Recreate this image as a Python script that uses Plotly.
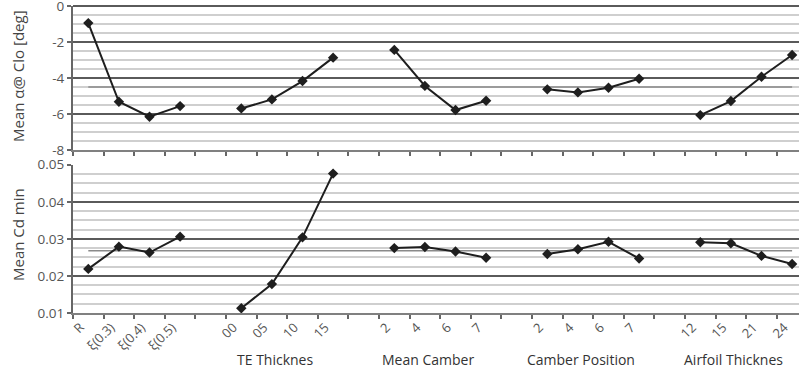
import plotly.graph_objects as go
from plotly.subplots import make_subplots

# ---- data ----
tick_labels = ["R", "ξ(0.3)", "ξ(0.4)", "ξ(0.5)", "",
               "00", "05", "10", "15", "",
               "2", "4", "6", "7", "",
               "2", "4", "6", "7", "",
               "12", "15", "21", "24"]
group_names = ["TE Thicknes", "Mean Camber", "Camber Position", "Airfoil Thicknes"]

alpha_shape = [-0.95, -5.32, -6.15, -5.56]
alpha_te = [-5.69, -5.19, -4.17, -2.87]
alpha_camber = [-2.44, -4.44, -5.78, -5.26]
alpha_campos = [-4.63, -4.80, -4.54, -4.04]
alpha_thick = [-6.06, -5.28, -3.93, -2.72]
alpha_grand_mean = -4.5

cd_shape = [0.0219, 0.0279, 0.0263, 0.0306]
cd_te = [0.0113, 0.0178, 0.0304, 0.0476]
cd_camber = [0.0275, 0.0278, 0.0266, 0.0249]
cd_campos = [0.0259, 0.0272, 0.0292, 0.0247]
cd_thick = [0.0291, 0.0288, 0.0254, 0.0232]
cd_grand_mean = 0.0268

# ---- layout constants ----
W, H = 799, 373
ML, MR, MT, MB = 73, 0, 6, 60
plot_h = H - MT - MB
top_dom = [(313 - 150) / plot_h, 1.0]
bot_dom = [0.0, (313 - 164.7) / plot_h]

fig = make_subplots(rows=2, cols=1, shared_xaxes=False)

groups_a = [alpha_shape, alpha_te, alpha_camber, alpha_campos, alpha_thick]
groups_c = [cd_shape, cd_te, cd_camber, cd_campos, cd_thick]
starts = [0, 5, 10, 15, 20]

line_col = "#1e1e1e"
mean_col = "#8a8a8a"

n = len(tick_labels)
fig.add_trace(go.Scatter(x=[0, n - 1], y=[alpha_grand_mean] * 2, mode="lines",
                         line=dict(color=mean_col, width=1.6), showlegend=False),
              row=1, col=1)
fig.add_trace(go.Scatter(x=[0, n - 1], y=[cd_grand_mean] * 2, mode="lines",
                         line=dict(color=mean_col, width=1.6), showlegend=False),
              row=2, col=1)

for vals_a, vals_c, s in zip(groups_a, groups_c, starts):
    xs = list(range(s, s + len(vals_a)))
    fig.add_trace(go.Scatter(x=xs, y=vals_a, mode="lines+markers",
                             line=dict(color=line_col, width=2),
                             marker=dict(symbol="diamond", size=8, color=line_col),
                             showlegend=False, cliponaxis=False), row=1, col=1)
    fig.add_trace(go.Scatter(x=xs, y=vals_c, mode="lines+markers",
                             line=dict(color=line_col, width=2),
                             marker=dict(symbol="diamond", size=8, color=line_col),
                             showlegend=False, cliponaxis=False), row=2, col=1)

spacing = 30.6
x_range = [-0.5, -0.5 + (W - ML - MR) / spacing]

font_fam = "Open Sans"
tick_font = dict(family=font_fam, size=13.5, color="#555555")
major_grid = "#5a5a5a"
minor_grid = "#cfcfcf"

common_x = dict(range=x_range, showgrid=False, zeroline=False, automargin=False,
                ticklabeloverflow="allow",
                tickmode="array", tickvals=list(range(n)), ticktext=tick_labels,
                ticks="", showline=True, linecolor="#808080", linewidth=1.5,
                minor=dict(tickmode="array", tickvals=[i - 0.5 for i in range(n + 1)],
                           ticks="outside", ticklen=4, tickcolor="#666666",
                           tickwidth=1.5, showgrid=False))

fig.update_xaxes(**common_x, showticklabels=False, row=1, col=1)
fig.update_xaxes(**common_x, showticklabels=True, tickangle=-45,
                 ticklabelshift=-8,
                 tickfont=dict(family=font_fam, size=13, color="#555555"),
                 row=2, col=1)

fig.update_yaxes(range=[-8, 0], tickmode="array", tickvals=[-8, -6, -4, -2, 0],
                 ticktext=["-8", "-6", "-4", "-2", "0"], automargin=False,
                 ticklabeloverflow="allow",
                 showgrid=True, gridcolor=major_grid, gridwidth=1.5,
                 zeroline=True, zerolinecolor=major_grid, zerolinewidth=1.5,
                 ticks="outside", ticklen=4, tickcolor="#666666", tickwidth=1.5,
                 showline=True, linecolor="#666666", linewidth=2,
                 tickfont=tick_font,
                 minor=dict(dtick=0.5, tick0=0, showgrid=True, gridcolor=minor_grid,
                            gridwidth=2, ticks=""),
                 row=1, col=1)
fig.update_yaxes(range=[0.01, 0.05], tickmode="array",
                 tickvals=[0.01, 0.02, 0.03, 0.04, 0.05],
                 ticktext=["0.01", "0.02", "0.03", "0.04", "0.05"], automargin=False,
                 ticklabeloverflow="allow",
                 showgrid=True, gridcolor=major_grid, gridwidth=1.5,
                 zeroline=False,
                 ticks="outside", ticklen=4, tickcolor="#666666", tickwidth=1.5,
                 showline=True, linecolor="#666666", linewidth=2,
                 tickfont=tick_font,
                 minor=dict(dtick=0.0025, tick0=0.01, showgrid=True, gridcolor=minor_grid,
                            gridwidth=2, ticks=""),
                 row=2, col=1)

fig.update_layout(
    xaxis=dict(domain=[0, 1], anchor="y"),
    xaxis2=dict(domain=[0, 1], anchor="y2"),
    yaxis=dict(domain=top_dom),
    yaxis2=dict(domain=bot_dom),
    width=W, height=H,
    margin=dict(l=ML, r=MR, t=MT, b=MB, autoexpand=False),
    paper_bgcolor="white", plot_bgcolor="white",
    font=dict(family=font_fam, color="#444444"),
)

pw = W - ML - MR
annots = []
# y titles
annots.append(dict(text="Mean α@ Clo [deg]", xref="paper", yref="paper",
                   x=(18 - ML) / pw, y=(313 - 76) / plot_h, textangle=-90,
                   showarrow=False, xanchor="center", yanchor="middle",
                   font=dict(family=font_fam, size=15, color="#444444")))
annots.append(dict(text="Mean Cd min", xref="paper", yref="paper",
                   x=(18 - ML) / pw, y=(313 - 235) / plot_h, textangle=-90,
                   showarrow=False, xanchor="center", yanchor="middle",
                   font=dict(family=font_fam, size=15, color="#444444")))
# group titles (under each group, slightly left as in reference)
for name, s in zip(group_names, starts[1:]):
    annots.append(dict(text=name, xref="x2", yref="paper",
                       x=s + 1.5 - 0.4, y=(313 - 359) / plot_h,
                       showarrow=False, xanchor="center", yanchor="middle",
                       font=dict(family=font_fam, size=14, color="#333333")))
fig.update_layout(annotations=annots)

fig.write_html("out.html", config={"displayModeBar": False},
               post_script="document.body.style.margin='0';")
